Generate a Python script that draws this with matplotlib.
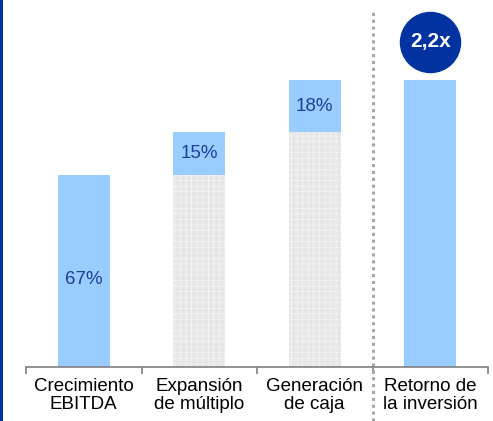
import matplotlib.pyplot as plt
from matplotlib.patches import Rectangle
import numpy as np

plt.rcParams['font.family'] = ['Liberation Sans', 'DejaVu Sans']
plt.rcParams['hatch.linewidth'] = 0.5

categories = ['Crecimiento\nEBITDA', 'Expansión\nde múltiplo', 'Generación\nde caja', 'Retorno de\nla inversión']
contrib = [67, 15, 18]
contrib_labels = ['67%', '15%', '18%']
multiple_label = '2,2x'

light_blue = '#99ccff'
dark_blue = '#0033a0'
text_blue = '#1f3f99'
grey_fill = '#e6e6e6'

fig = plt.figure(figsize=(4.93, 4.21), dpi=100)
ax = fig.add_axes([26 / 493, 54 / 421, 462 / 493, 367 / 421])

x = np.arange(len(categories))
w = 0.45
bottoms = np.concatenate([[0], np.cumsum(contrib)[:-1]])
total = sum(contrib)

# grey base under the stacked steps
for i in range(1, len(contrib)):
    ax.bar(x[i], bottoms[i], w, color=grey_fill, edgecolor='#f5f5f5',
           hatch='+++', linewidth=0)
# blue contribution steps
for i in range(len(contrib)):
    ax.bar(x[i], contrib[i], w, bottom=bottoms[i], color=light_blue, linewidth=0)
    ax.text(x[i], bottoms[i] + contrib[i] / 2 - (3 if i == 0 else 0), contrib_labels[i],
            ha='center', va='center', fontsize=13.5, color=text_blue)
# total bar
ax.bar(x[3], total, w, color=light_blue, linewidth=0)
ax.scatter([x[3]], [total + 13.4], s=1870, color=dark_blue, zorder=3, clip_on=False)
ax.text(x[3], total + 13.4, multiple_label, ha='center', va='center',
        fontsize=15, fontweight='bold', color='white', zorder=4)

# dotted separator
ax.plot([2.5, 2.5], [-19, total + 25], color='#a6a6a6', lw=2.2,
        linestyle=(0, (1, 1.25)), clip_on=False)

ax.set_xlim(-0.5, 3.5)
ax.set_ylim(0, 367 / 2.866)
for s in ['top', 'right', 'left']:
    ax.spines[s].set_visible(False)
ax.spines['bottom'].set_color('#808080')
ax.spines['bottom'].set_linewidth(1.2)
ax.set_yticks([])
ax.set_xticks(x)
ax.set_xticklabels(categories, fontsize=13.5, linespacing=1.1)
ax.tick_params(axis='x', which='major', length=0, pad=8)
ax.set_xticks(np.arange(-0.5, 4.0, 1.0), minor=True)
ax.tick_params(axis='x', which='minor', length=5, width=1.2, color='#808080')

fig.add_artist(Rectangle((0, 0), 3 / 493, 1, transform=fig.transFigure,
                         color=dark_blue, linewidth=0))

fig.savefig('out.png', dpi=100)
